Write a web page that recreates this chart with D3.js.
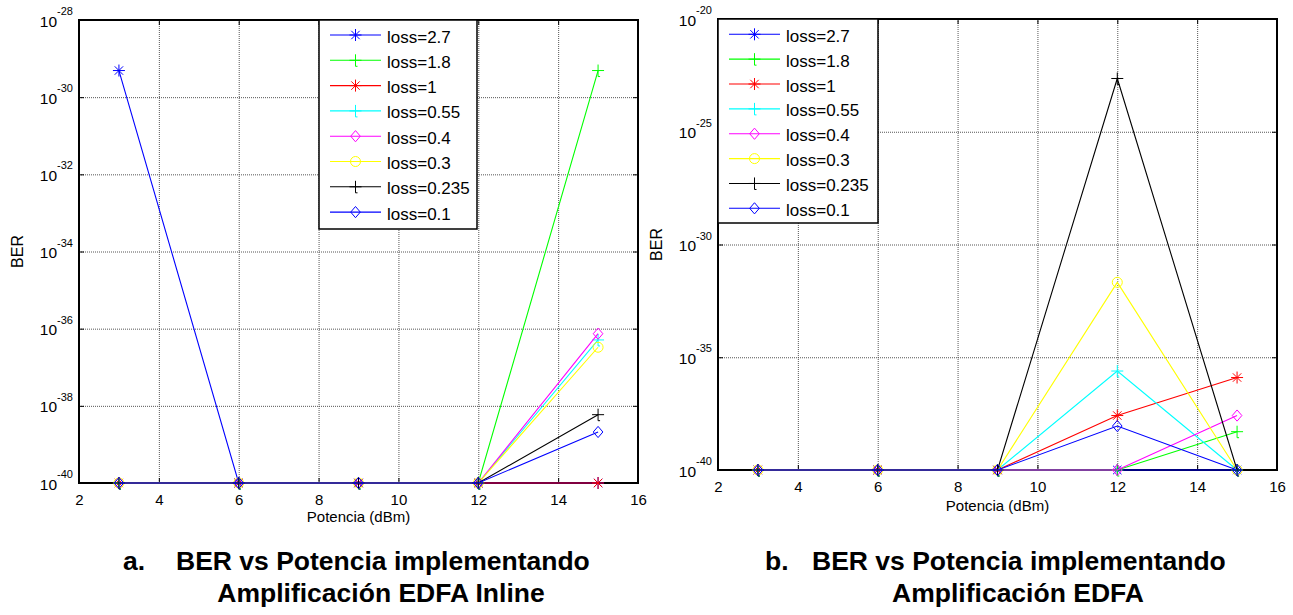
<!DOCTYPE html>
<html>
<head>
<meta charset="utf-8">
<script src="https://cdn.jsdelivr.net/npm/d3@7"></script>
<style>
  html, body { margin: 0; padding: 0; background: #ffffff; }
  svg { display: block; font-family: "Liberation Sans", Arial, sans-serif; }
  .grid line { stroke: #555555; stroke-width: 1; stroke-dasharray: 1,1; }
  .grid .domain { display: none; }
  .ticks line { stroke: #000; stroke-width: 1; }
  .ticks .domain { display: none; }
</style>
</head>
<body>
<script>
// Transmitted power (dBm) at which BER was measured
const potencia = [3, 6, 9, 12, 15];

// Fibre loss cases, one curve each
const lossLabels = ["loss=2.7", "loss=1.8", "loss=1", "loss=0.55", "loss=0.4", "loss=0.3", "loss=0.235", "loss=0.1"];
const lossColors = ["#0000ff", "#00ff00", "#ff0000", "#00ffff", "#ff00ff", "#ffff00", "#000000", "#0000ff"];
const lossMarkers = ["star", "plus", "star", "plus", "diamond", "circle", "plus", "diamond"];

// Axis ticks
const xTicks = [2, 4, 6, 8, 10, 12, 14, 16];
const yTicksInline = [1e-40, 1e-38, 1e-36, 1e-34, 1e-32, 1e-30, 1e-28];
const yTicksEdfa = [1e-40, 1e-35, 1e-30, 1e-25, 1e-20];

// BER per loss case (rows follow lossLabels), inline EDFA amplification
const berInline = [
  [4.9e-30, 1e-40, 1e-40, 1e-40, 1e-40],
  [1e-40, 1e-40, 1e-40, 1e-40, 4.9e-30],
  [1e-40, 1e-40, 1e-40, 1e-40, 1e-40],
  [1e-40, 1e-40, 1e-40, 1e-40, 5.1e-37],
  [1e-40, 1e-40, 1e-40, 1e-40, 7.4e-37],
  [1e-40, 1e-40, 1e-40, 1e-40, 3.3e-37],
  [1e-40, 1e-40, 1e-40, 1e-40, 5.9e-39],
  [1e-40, 1e-40, 1e-40, 1e-40, 2.1e-39]
];

// BER per loss case (rows follow lossLabels), EDFA amplification
const berEdfa = [
  [1e-40, 1e-40, 1e-40, 1e-40, 1e-40],
  [1e-40, 1e-40, 1e-40, 1e-40, 5.0e-39],
  [1e-40, 1e-40, 1e-40, 2.6e-38, 1.26e-36],
  [1e-40, 1e-40, 1e-40, 2.45e-36, 1e-40],
  [1e-40, 1e-40, 1e-40, 1e-40, 2.6e-38],
  [1e-40, 1e-40, 1e-40, 2.1e-32, 1e-40],
  [1e-40, 1e-40, 1e-40, 2.3e-23, 1e-40],
  [1e-40, 1e-40, 1e-40, 8.9e-39, 1e-40]
];

const W = 1293, H = 615;
const svg = d3.select("body").append("svg").attr("width", W).attr("height", H);

function markerPath(type) {
  if (type === "star") return "M-6,0H6M0,-6V6M-4.2,-4.2L4.2,4.2M-4.2,4.2L4.2,-4.2";
  if (type === "plus") return "M-6,0H6M0,-6V6M0,6h2";
  if (type === "diamond") return "M0,-5.6L4.8,0L0,5.6L-4.8,0Z";
  return null;
}

function drawMarker(g, type, color, cx, cy) {
  if (type === "circle") {
    g.append("circle").attr("cx", cx).attr("cy", cy).attr("r", 5)
      .attr("fill", "none").attr("stroke", color).attr("stroke-width", 1);
  } else {
    g.append("path").attr("d", markerPath(type))
      .attr("transform", `translate(${cx},${cy})`)
      .attr("fill", "none").attr("stroke", color).attr("stroke-width", 1);
  }
}

function drawPanel(p) {
  const x = d3.scaleLinear().domain([2, 16]).range([p.x0, p.x1]);
  const y = d3.scaleLog().domain([p.yTicks[0], p.yTicks[p.yTicks.length - 1]]).range([p.y1, p.y0]);
  const g = svg.append("g");
  const pw = p.x1 - p.x0, ph = p.y1 - p.y0;

  g.append("rect").attr("x", p.x0).attr("y", p.y0).attr("width", pw).attr("height", ph).attr("fill", "#fff");

  // dotted grid
  g.append("g").attr("class", "grid").attr("transform", `translate(0,${p.y1})`)
    .call(d3.axisBottom(x).tickValues(xTicks.slice(1, -1)).tickSize(-ph).tickFormat(""));
  g.append("g").attr("class", "grid").attr("transform", `translate(${p.x0},0)`)
    .call(d3.axisLeft(y).tickValues(p.yTicks.slice(1, -1)).tickSize(-pw).tickFormat(""));

  // inward ticks on all four sides
  const bottom = g.append("g").attr("class", "ticks").attr("transform", `translate(0,${p.y1})`)
    .call(d3.axisBottom(x).tickValues(xTicks).tickSizeInner(-5).tickSizeOuter(0).tickPadding(11));
  bottom.selectAll("text").attr("font-size", 15).attr("fill", "#000").attr("font-family", "Liberation Sans, Arial, sans-serif");
  g.append("g").attr("class", "ticks").attr("transform", `translate(0,${p.y0})`)
    .call(d3.axisTop(x).tickValues(xTicks).tickSizeInner(-5).tickSizeOuter(0).tickFormat(""));
  const left = g.append("g").attr("class", "ticks").attr("transform", `translate(${p.x0},0)`)
    .call(d3.axisLeft(y).tickValues(p.yTicks).tickSizeInner(-5).tickSizeOuter(0).tickFormat(""));
  g.append("g").attr("class", "ticks").attr("transform", `translate(${p.x1},0)`)
    .call(d3.axisRight(y).tickValues(p.yTicks).tickSizeInner(-5).tickSizeOuter(0).tickFormat(""));

  // power-of-ten tick labels
  left.selectAll(".tick").each(function (d) {
    const t = d3.select(this).append("text")
      .attr("x", -6).attr("y", 6).attr("text-anchor", "end").attr("fill", "#000")
      .attr("font-family", "Liberation Sans, Arial, sans-serif");
    t.append("tspan").attr("font-size", 15.5).text("10");
    t.append("tspan").attr("font-size", 11).attr("dy", -11.5).text(String(Math.round(Math.log10(d))));
  });

  // axes box
  g.append("rect").attr("x", p.x0).attr("y", p.y0).attr("width", pw).attr("height", ph)
    .attr("fill", "none").attr("stroke", "#000").attr("stroke-width", 2);

  // axis titles
  g.append("text").attr("x", (p.x0 + p.x1) / 2).attr("y", p.xlabelY).attr("text-anchor", "middle")
    .attr("font-size", 15).text("Potencia (dBm)");
  g.append("text").attr("transform", `translate(${p.x0 - 56},${(p.y0 + p.y1) / 2}) rotate(-90)`)
    .attr("text-anchor", "middle").attr("font-size", 16).text("BER");

  // curves
  const line = d3.line().x((d, i) => x(potencia[i])).y(d => y(d));
  p.data.forEach((vals, k) => {
    const s = g.append("g");
    s.append("path").attr("d", line(vals)).attr("fill", "none")
      .attr("stroke", lossColors[k]).attr("stroke-width", 1.1);
    vals.forEach((v, i) => drawMarker(s, lossMarkers[k], lossColors[k], x(potencia[i]), y(v)));
  });

  // legend
  const L = p.legend;
  const lg = g.append("g");
  lg.append("rect").attr("x", L.x0).attr("y", L.y0).attr("width", L.x1 - L.x0).attr("height", L.y1 - L.y0)
    .attr("fill", "#fff").attr("stroke", "#000").attr("stroke-width", 1.5);
  lossLabels.forEach((name, k) => {
    const ry = L.rowY0 + k * L.rowStep;
    lg.append("line").attr("x1", L.lineX0).attr("x2", L.lineX1).attr("y1", ry).attr("y2", ry)
      .attr("stroke", lossColors[k]).attr("stroke-width", 1.1);
    drawMarker(lg, lossMarkers[k], lossColors[k], (L.lineX0 + L.lineX1) / 2, ry);
    lg.append("text").attr("x", L.textX).attr("y", ry + 7.5).attr("font-size", 17).text(name);
  });
}

drawPanel({
  x0: 79, x1: 638, y0: 20, y1: 483,
  yTicks: yTicksInline, data: berInline, xlabelY: 522,
  legend: { x0: 319, x1: 477, y0: 20, y1: 229, rowY0: 35, rowStep: 25.3, lineX0: 330, lineX1: 381, textX: 387 }
});

drawPanel({
  x0: 718, x1: 1277, y0: 19, y1: 470,
  yTicks: yTicksEdfa, data: berEdfa, xlabelY: 511,
  legend: { x0: 718, x1: 878, y0: 19, y1: 223, rowY0: 34.3, rowStep: 24.86, lineX0: 729, lineX1: 780, textX: 786 }
});

// figure captions
const caps = [
  { tag: "a.", tagX: 123, startX: 176, center: 381, l1: "BER vs Potencia implementando", l2: "Amplificación EDFA Inline" },
  { tag: "b.", tagX: 765, startX: 812, center: 1018, l1: "BER vs Potencia implementando", l2: "Amplificación EDFA" }
];
caps.forEach(c => {
  const t = svg.append("g").attr("font-size", 26.5).attr("font-weight", "bold").attr("fill", "#000");
  t.append("text").attr("x", c.tagX).attr("y", 570).text(c.tag);
  t.append("text").attr("x", c.startX).attr("y", 570).text(c.l1);
  t.append("text").attr("x", c.center).attr("y", 602).attr("text-anchor", "middle").text(c.l2);
});
</script>
</body>
</html>
